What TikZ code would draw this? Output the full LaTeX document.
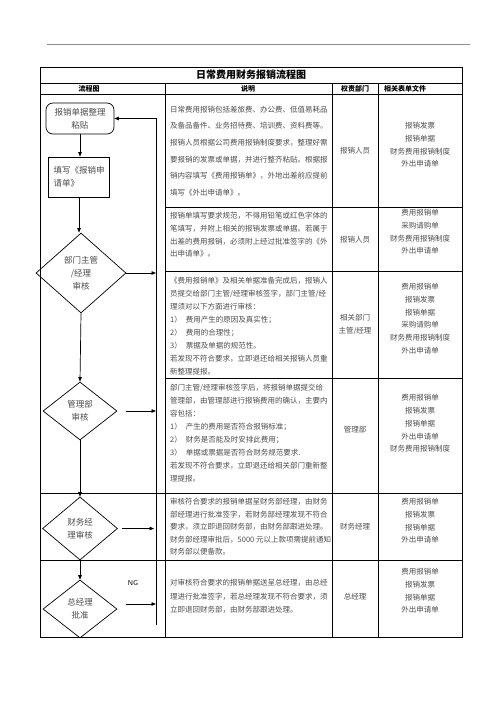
\documentclass[tikz,border=0pt]{standalone}
\usepackage{fontspec}
\setmainfont{Noto Sans CJK SC}
\usetikzlibrary{arrows.meta,shapes.geometric}
\begin{document}
\begin{tikzpicture}[x=1pt,y=-1pt,
  tbl/.style={line width=0.8pt},
  body/.style={text=black!70, inner sep=0pt},
  desc/.style={body, align=left, anchor=west},
  docs/.style={body, align=center, font=\fontsize{7.5}{12.7}\selectfont},
  dept/.style={body, align=center, font=\fontsize{7.5}{13}\selectfont},
  flowtxt/.style={font=\fontsize{8.5}{12.8}\selectfont, text=black!70},
  procbox/.style={draw, line width=0.7pt, inner sep=0pt, flowtxt},
  dec/.style={draw, diamond, inner sep=0pt, line width=0.7pt, align=center, flowtxt},
  flow/.style={line width=0.7pt, -{Triangle[length=4.5pt,width=3.5pt]}},
]
\useasboundingbox (0,0) rectangle (496,702);

% top rule
\draw[black!45, line width=0.5pt] (47,44) -- (470,44);

% table frame
\draw[tbl] (40,67) rectangle (462,637);
\draw[tbl] (40,83) -- (462,83);
\draw[tbl] (40,94) -- (462,94);
\draw[tbl] (165,83) -- (165,637);
\draw[tbl] (332,83) -- (332,637);
\draw[tbl] (378,83) -- (378,637);
\draw[tbl] (165,207) -- (462,207);
\draw[tbl] (165,271) -- (462,271);
\draw[tbl] (165,378) -- (462,378);
\draw[tbl] (40,493) -- (462,493);
\draw[tbl] (40,560) -- (462,560);

% title and headers
\node[font=\fontsize{10}{12}\selectfont\bfseries] (title) at (251,75) {日常费用财务报销流程图};
\node[font=\fontsize{7}{8}\selectfont\bfseries] (h1) at (89,88.5) {流程图};
\node[font=\fontsize{7}{8}\selectfont\bfseries] (h2) at (248,88.5) {说明};
\node[font=\fontsize{7}{8}\selectfont\bfseries] (h3) at (355,88.5) {权责部门};
\node[font=\fontsize{7}{8}\selectfont\bfseries] (h4) at (405,88.5) {相关表单文件};

% flowchart
\node[procbox, rounded corners=7pt, minimum width=68pt, minimum height=31pt, align=center] (b1) at (80,118.5) {报销单据整理\\粘贴};
\node[procbox, minimum width=61pt, minimum height=40pt, align=left] (b2) at (79,177) {填写《报销申\\请单》};
\node[dec, minimum width=90pt, minimum height=80pt] (d1) at (81,273) {部门主管\\/经理\\审核};
\node[dec, minimum width=74pt, minimum height=58pt] (d2) at (80,411) {管理部\\审核};
\node[dec, minimum width=75pt, minimum height=63pt] (d3) at (80,528.5) {财务经\\理审核};
\node[dec, minimum width=74pt, minimum height=58pt] (d4) at (80,609) {总经理\\批准};

\draw[flow] (b1.south) -- (b1.south |- b2.north);
\draw[flow] (b2.south) -- (b2.south |- d1.north);
\draw[flow] (d1.south) -- (d2.north);
\draw[flow] (d2.south) -- (d3.north);
\draw[flow] (d3.south) -- (d4.north);

\coordinate (rt) at (156,118.5);
\coordinate (rb) at (156,625);
\draw[flow] (rb) -- (rt) -- (b1.east);
\draw[flow] (d1.east) -- (d1.east -| rt);
\draw[flow] ([xshift=9pt]d2.east) -- (d2.east -| rt);
\draw[flow] ([xshift=4pt]d3.east) -- ([xshift=-2pt]d3.east -| rt);
\draw[flow] ([xshift=9pt,yshift=5pt]d4.east) -- ([yshift=5pt]d4.east -| rt);
\node[font=\fontsize{7}{8}\selectfont\sffamily] (ng) at (133,583) {NG};

% descriptions
\node[desc, font=\fontsize{7.5}{16.6}\selectfont] (t1) at (170,151) {日常费用报销包括差旅费、办公费、低值易耗品\\及备品备件、业务招待费、培训费、资料费等。\\报销人员根据公司费用报销制度要求，整理好需\\要报销的发票或单据，并进行整齐粘贴。根据报\\销内容填写《费用报销单》，外地出差前应提前\\填写《外出申请单》。};
\node[desc, font=\fontsize{7.5}{12.7}\selectfont] (t2) at (170,235) {报销单填写要求规范，不得用铅笔或红色字体的\\笔填写，并附上相关的报销发票或单据。若属于\\出差的费用报销，必须附上经过批准签字的《外\\出申请单》。};
\node[desc, font=\fontsize{7.5}{13.1}\selectfont] (t3) at (170,326) {《费用报销单》及相关单据准备完成后，报销人\\员提交给部门主管/经理审核签字，部门主管/经\\理须对以下方面进行审核：\\1）\hspace{4pt}费用产生的原因及真实性；\\2）\hspace{4pt}费用的合理性；\\3）\hspace{4pt}票据及单据的规范性。\\若发现不符合要求，立即退还给相关报销人员重\\新整理提报。};
\node[desc, font=\fontsize{7.5}{13.1}\selectfont] (t4) at (170,433) {部门主管/经理审核签字后，将报销单据提交给\\管理部，由管理部进行报销费用的确认，主要内\\容包括：\\1）\hspace{4pt}产生的费用是否符合报销标准；\\2）\hspace{4pt}财务是否能及时安排此费用；\\3）\hspace{4pt}单据或票据是否符合财务规范要求.\\若发现不符合要求，立即退还给相关部门重新整\\理提报。};
\node[desc, font=\fontsize{7.5}{12.5}\selectfont] (t5) at (170,527) {审核符合要求的报销单据呈财务部经理，由财务\\部经理进行批准签字，若财务部经理发现不符合\\要求，须立即退回财务部，由财务部跟进处理。\\财务部经理审批后，5000 元以上款项需提前通知\\财务部以便备款。};
\node[desc, font=\fontsize{7.5}{13.5}\selectfont] (t6) at (170,596.5) {对审核符合要求的报销单据送呈总经理，由总经\\理进行批准签字，若总经理发现不符合要求，须\\立即退回财务部，由财务部跟进处理。};

% departments
\node[dept] (p1) at (355,151) {报销人员};
\node[dept] (p2) at (355,240) {报销人员};
\node[dept] (p3) at (355,324.5) {相关部门\\主管/经理};
\node[dept] (p4) at (355,430) {管理部};
\node[dept] (p5) at (355,527) {财务经理};
\node[dept] (p6) at (355,597) {总经理};

% documents
\node[docs] (f1) at (420,145) {报销发票\\报销单据\\财务费用报销制度\\外出申请单};
\node[docs] (f2) at (420,232) {费用报销单\\采购请购单\\财务费用报销制度\\外出申请单};
\node[docs] (f3) at (420,318.5) {费用报销单\\报销发票\\报销单据\\采购请购单\\财务费用报销制度\\外出申请单};
\node[docs] (f4) at (420,423.5) {费用报销单\\报销发票\\报销单据\\外出申请单\\财务费用报销制度};
\node[docs] (f5) at (420,521) {费用报销单\\报销发票\\报销单据\\外出申请单};
\node[docs] (f6) at (420,591) {费用报销单\\报销发票\\报销单据\\外出申请单};
\end{tikzpicture}
\end{document}
